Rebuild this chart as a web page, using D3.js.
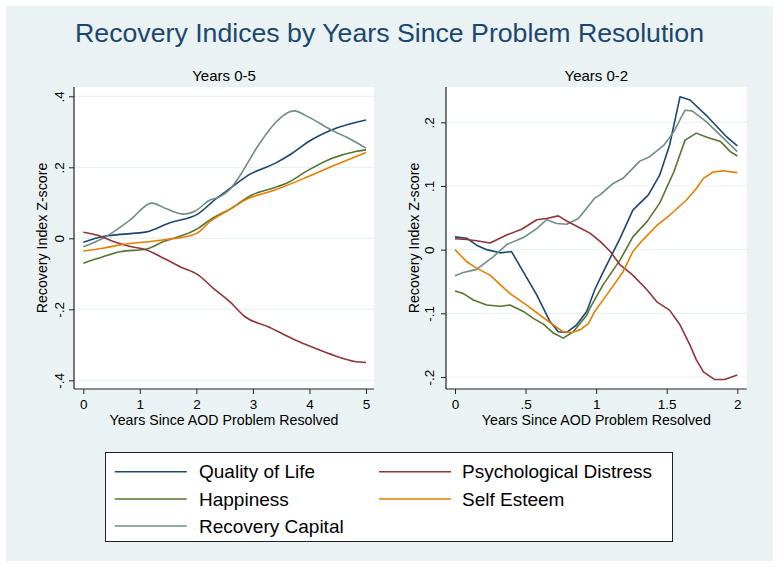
<!DOCTYPE html>
<html>
<head>
<meta charset="utf-8">
<script src="https://cdn.jsdelivr.net/npm/d3@7"></script>
<style>
  body { margin: 0; background: #ffffff; }
  svg { display: block; font-family: "Liberation Sans", Arial, Helvetica, sans-serif; }
</style>
</head>
<body>
<svg id="chart" width="779" height="567"></svg>
<script>
// ---------------- DATA ----------------
const title = "Recovery Indices by Years Since Problem Resolution";
const panelTitles = ["Years 0-5", "Years 0-2"];
const xAxisTitle = "Years Since AOD Problem Resolved";
const yAxisTitle = "Recovery Index Z-score";

const seriesNames = ["Quality of Life", "Happiness", "Recovery Capital", "Psychological Distress", "Self Esteem"];
const seriesColors = ["#1a476f", "#55752f", "#6e8e84", "#90353b", "#e37e00"];

const leftXTicks = [0, 1, 2, 3, 4, 5];
const leftXTickLabels = ["0", "1", "2", "3", "4", "5"];
const leftYTicks = [-0.4, -0.2, 0, 0.2, 0.4];
const leftYTickLabels = ["-.4", "-.2", "0", ".2", ".4"];

const rightXTicks = [0, 0.5, 1, 1.5, 2];
const rightXTickLabels = ["0", ".5", "1", "1.5", "2"];
const rightYTicks = [-0.2, -0.1, 0, 0.1, 0.2];
const rightYTickLabels = ["-.2", "-.1", "0", ".1", ".2"];

// Years 0-5 panel: [years, z-score]
const qolLeft = [[0,-0.011],[0.35,0.005],[0.65,0.011],[1.12,0.018],[1.53,0.044],[2.03,0.069],[2.36,0.113],[2.6,0.141],[2.92,0.178],[3.39,0.211],[3.69,0.239],[3.98,0.272],[4.39,0.305],[5,0.333]];
const happLeft = [[0,-0.070],[0.35,-0.052],[0.65,-0.038],[1.12,-0.030],[1.42,-0.009],[1.77,0.009],[2.03,0.028],[2.24,0.052],[2.6,0.083],[2.98,0.122],[3.39,0.143],[3.63,0.158],[3.98,0.192],[4.39,0.225],[4.8,0.244],[5,0.249]];
const rcLeft = [[0,-0.024],[0.35,0.000],[0.83,0.052],[1.21,0.099],[1.47,0.083],[1.77,0.068],[1.98,0.077],[2.24,0.108],[2.39,0.115],[2.6,0.139],[2.74,0.169],[3.1,0.263],[3.39,0.324],[3.63,0.355],[3.74,0.359],[3.92,0.347],[4.39,0.305],[4.75,0.277],[5,0.254]];
const pdLeft = [[0,0.017],[0.24,0.009],[0.53,-0.009],[0.83,-0.023],[1.12,-0.033],[1.42,-0.056],[1.71,-0.080],[2.03,-0.103],[2.3,-0.141],[2.6,-0.180],[2.86,-0.221],[3.27,-0.249],[3.69,-0.282],[4.1,-0.310],[4.45,-0.331],[4.8,-0.347],[5,-0.350]];
const seLeft = [[0,-0.036],[0.35,-0.028],[0.71,-0.017],[1.18,-0.009],[1.53,-0.002],[1.83,0.005],[2.03,0.016],[2.24,0.047],[2.6,0.082],[2.86,0.108],[3.39,0.136],[3.98,0.174],[4.39,0.202],[5,0.242]];

// Years 0-2 panel: [years, z-score]
const qolRight = [[0,0.020],[0.083,0.018],[0.153,0.007],[0.224,0.000],[0.319,-0.005],[0.40,-0.003],[0.484,-0.035],[0.579,-0.071],[0.673,-0.113],[0.732,-0.129],[0.791,-0.130],[0.862,-0.118],[0.933,-0.097],[0.99,-0.063],[1.05,-0.035],[1.17,0.018],[1.26,0.062],[1.37,0.086],[1.45,0.117],[1.52,0.164],[1.594,0.240],[1.665,0.235],[1.78,0.211],[1.925,0.177],[2,0.163]];
const happRight = [[0,-0.065],[0.059,-0.069],[0.13,-0.079],[0.224,-0.087],[0.319,-0.089],[0.39,-0.087],[0.484,-0.097],[0.555,-0.108],[0.626,-0.117],[0.697,-0.131],[0.767,-0.139],[0.838,-0.129],[0.933,-0.103],[0.956,-0.092],[1.05,-0.055],[1.17,-0.016],[1.26,0.020],[1.36,0.044],[1.45,0.073],[1.55,0.122],[1.63,0.172],[1.71,0.183],[1.78,0.177],[1.88,0.170],[1.95,0.154],[2,0.147]];
const rcRight = [[0,-0.041],[0.059,-0.036],[0.153,-0.031],[0.272,-0.011],[0.366,0.008],[0.484,0.019],[0.579,0.033],[0.649,0.047],[0.72,0.041],[0.791,0.040],[0.874,0.049],[0.933,0.065],[0.99,0.081],[1.028,0.086],[1.12,0.104],[1.19,0.112],[1.31,0.139],[1.38,0.146],[1.48,0.164],[1.55,0.185],[1.594,0.204],[1.63,0.219],[1.68,0.218],[1.78,0.201],[1.925,0.170],[2,0.154]];
const pdRight = [[0,0.017],[0.083,0.016],[0.153,0.014],[0.248,0.0105],[0.366,0.023],[0.472,0.032],[0.579,0.047],[0.649,0.049],[0.732,0.053],[0.791,0.045],[0.886,0.034],[0.956,0.026],[1.028,0.013],[1.10,-0.003],[1.17,-0.024],[1.26,-0.040],[1.36,-0.063],[1.43,-0.082],[1.52,-0.095],[1.594,-0.118],[1.665,-0.150],[1.71,-0.173],[1.76,-0.192],[1.84,-0.204],[1.91,-0.204],[2,-0.197]];
const seRight = [[0,0.000],[0.083,-0.019],[0.153,-0.029],[0.248,-0.040],[0.39,-0.069],[0.508,-0.087],[0.602,-0.103],[0.697,-0.118],[0.767,-0.129],[0.827,-0.130],[0.886,-0.126],[0.945,-0.116],[0.99,-0.097],[1.075,-0.071],[1.19,-0.035],[1.26,-0.003],[1.33,0.015],[1.43,0.038],[1.52,0.054],[1.64,0.078],[1.71,0.096],[1.76,0.112],[1.83,0.122],[1.9,0.124],[2,0.121]];

const leftSeries = [qolLeft, happLeft, rcLeft, pdLeft, seLeft];
const rightSeries = [qolRight, happRight, rcRight, pdRight, seRight];

// ---------------- DRAW ----------------
const svg = d3.select("#chart");
const BG = "#eaf2f3";
const FONT = '"Liberation Sans", Arial, Helvetica, sans-serif';

svg.append("rect").attr("x", 0).attr("y", 0).attr("width", 779).attr("height", 567).attr("fill", "#ffffff");
svg.append("rect").attr("x", 6).attr("y", 6).attr("width", 767).attr("height", 555).attr("fill", BG);

svg.append("text")
  .attr("x", 389.5).attr("y", 42.3)
  .attr("text-anchor", "middle")
  .attr("font-size", 26.7)
  .attr("fill", "#1a476f")
  .text(title);

function drawPanel(cfg) {
  const g = svg.append("g");
  const x = d3.scaleLinear().domain(cfg.xDomain).range(cfg.xRange);
  const y = d3.scaleLinear().domain(cfg.yDomain).range(cfg.yRange);
  const pr = cfg.plot; // plot region box

  g.append("rect").attr("x", pr.x0).attr("y", pr.y0)
    .attr("width", pr.x1 - pr.x0).attr("height", pr.y1 - pr.y0)
    .attr("fill", "#ffffff");

  // grid lines
  g.selectAll("line.grid").data(cfg.yTicks).enter().append("line")
    .attr("class", "grid")
    .attr("x1", pr.x0).attr("x2", pr.x1)
    .attr("y1", d => y(d)).attr("y2", d => y(d))
    .attr("stroke", BG).attr("stroke-width", 1.2);

  // series lines
  const line = d3.line().x(d => x(d[0])).y(d => y(d[1])).curve(cfg.curve);
  cfg.series.forEach((s, i) => {
    g.append("path").datum(s)
      .attr("d", line)
      .attr("fill", "none")
      .attr("stroke", seriesColors[i])
      .attr("stroke-width", 1.6)
      .attr("stroke-linejoin", "round");
  });

  // y axis
  const yAxis = d3.axisLeft(y).tickValues(cfg.yTicks).tickSize(5)
    .tickFormat((d, i) => cfg.yTickLabels[i]);
  const ya = g.append("g").attr("transform", `translate(${pr.x0},0)`).call(yAxis);
  ya.select(".domain").remove();
  ya.selectAll(".tick line").attr("stroke", "#222").attr("stroke-width", 1);
  ya.selectAll(".tick text")
    .attr("x", null).attr("dy", null)
    .attr("transform", "rotate(-90)")
    .attr("x", 0).attr("y", -cfg.yLabelGap)
    .attr("text-anchor", "middle")
    .attr("font-size", 13.5).attr("font-family", FONT).attr("fill", "#000");
  g.append("line").attr("x1", pr.x0).attr("x2", pr.x0).attr("y1", pr.y0).attr("y2", pr.y1)
    .attr("stroke", "#222").attr("stroke-width", 1.2);

  // x axis
  const xAxis = d3.axisBottom(x).tickValues(cfg.xTicks).tickSize(5)
    .tickFormat((d, i) => cfg.xTickLabels[i]);
  const xa = g.append("g").attr("transform", `translate(0,${pr.y1})`).call(xAxis);
  xa.select(".domain").remove();
  xa.selectAll(".tick line").attr("stroke", "#222").attr("stroke-width", 1);
  xa.selectAll(".tick text")
    .attr("dy", null).attr("y", 20.3)
    .attr("font-size", 13.5).attr("font-family", FONT).attr("fill", "#000");
  g.append("line").attr("x1", pr.x0).attr("x2", pr.x1).attr("y1", pr.y1).attr("y2", pr.y1)
    .attr("stroke", "#222").attr("stroke-width", 1.2);

  const cx = (pr.x0 + pr.x1) / 2;
  g.append("text").attr("x", cx).attr("y", 80.7).attr("text-anchor", "middle")
    .attr("font-size", 15).attr("fill", "#000").text(cfg.title);
  g.append("text").attr("x", cx).attr("y", 425.3).attr("text-anchor", "middle")
    .attr("font-size", 14.2).attr("fill", "#000").text(xAxisTitle);
  const cy = (pr.y0 + pr.y1) / 2;
  g.append("text")
    .attr("transform", `translate(${cfg.yTitleX},${cy}) rotate(-90)`)
    .attr("text-anchor", "middle")
    .attr("font-size", 14.2).attr("fill", "#000").text(yAxisTitle);
}

drawPanel({
  title: panelTitles[0],
  xDomain: [0, 5], xRange: [83.3, 366],
  yDomain: [-0.4, 0.4], yRange: [380.3, 96.3],
  plot: { x0: 74, x1: 374, y0: 87, y1: 389 },
  xTicks: leftXTicks, xTickLabels: leftXTickLabels,
  yTicks: leftYTicks, yTickLabels: leftYTickLabels,
  series: leftSeries, curve: d3.curveMonotoneX,
  yLabelGap: 10.5, yTitleX: 46.5
});

drawPanel({
  title: panelTitles[1],
  xDomain: [0, 2], xRange: [455, 737.3],
  yDomain: [-0.2, 0.2], yRange: [377, 122.3],
  plot: { x0: 446, x1: 746.7, y0: 87, y1: 389 },
  xTicks: rightXTicks, xTickLabels: rightXTickLabels,
  yTicks: rightYTicks, yTickLabels: rightYTickLabels,
  series: rightSeries, curve: d3.curveLinear,
  yLabelGap: 12.5, yTitleX: 418.5
});

// legend
const legend = svg.append("g");
legend.append("rect").attr("x", 105.5).attr("y", 452.5).attr("width", 567).attr("height", 89)
  .attr("fill", "#ffffff").attr("stroke", "#222").attr("stroke-width", 1);
const legendPos = [
  { lx: 114.8, tx: 199, y: 471.7 },
  { lx: 114.8, tx: 199, y: 499 },
  { lx: 114.8, tx: 199, y: 526 },
  { lx: 379, tx: 462, y: 471.7 },
  { lx: 379, tx: 462, y: 499 }
];
seriesNames.forEach((name, i) => {
  const p = legendPos[i];
  legend.append("line").attr("x1", p.lx).attr("x2", p.lx + 72).attr("y1", p.y).attr("y2", p.y)
    .attr("stroke", seriesColors[i]).attr("stroke-width", 1.6);
  legend.append("text").attr("x", p.tx).attr("y", p.y + 6.7)
    .attr("font-size", 19).attr("fill", "#000").text(name);
});
</script>
</body>
</html>
